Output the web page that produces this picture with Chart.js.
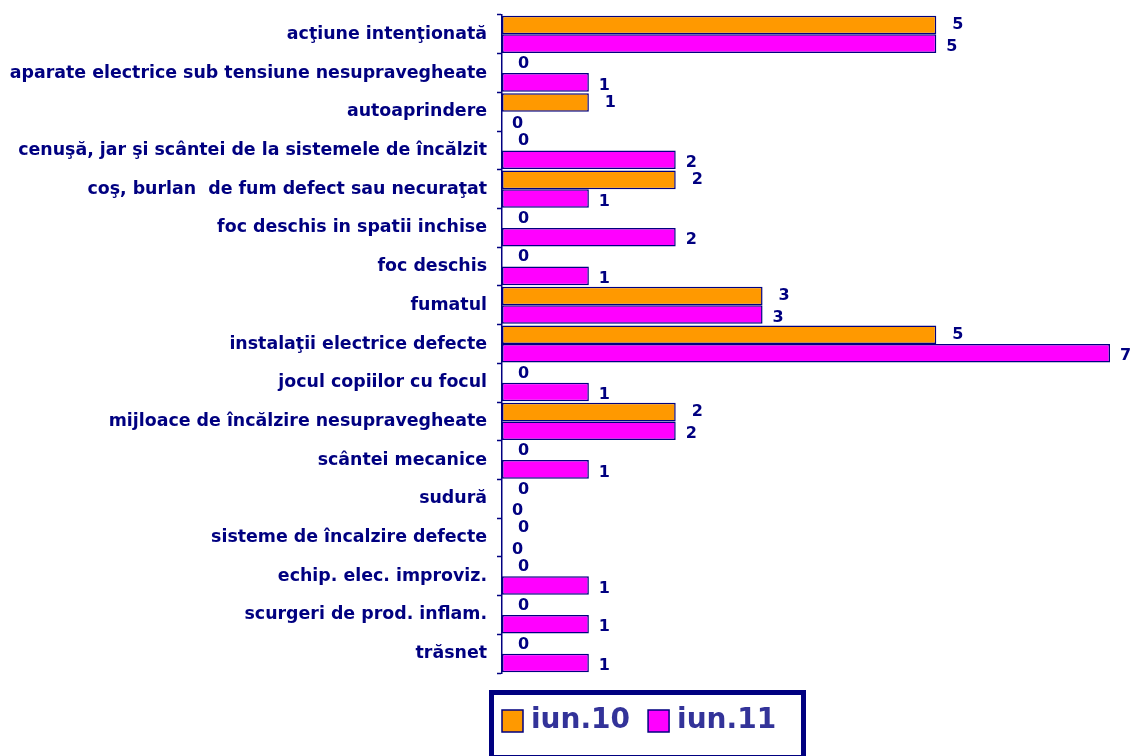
<!DOCTYPE html>
<html><head><meta charset="utf-8">
<script src="https://cdn.jsdelivr.net/npm/chart.js@4/dist/chart.umd.min.js"></script>
<style>html,body{margin:0;padding:0;background:#fff}#wrap{width:1136px;height:756px;position:relative}</style>
</head><body><div id="wrap"><canvas id="c" width="1136" height="756"></canvas></div>
<script>
const categories = [
  "acţiune intenţionată",
  "aparate electrice sub tensiune nesupravegheate",
  "autoaprindere",
  "cenuşă, jar şi scântei de la sistemele de încălzit",
  "coş, burlan  de fum defect sau necuraţat",
  "foc deschis in spatii inchise",
  "foc deschis",
  "fumatul",
  "instalaţii electrice defecte",
  "jocul copiilor cu focul",
  "mijloace de încălzire nesupravegheate",
  "scântei mecanice",
  "sudură",
  "sisteme de încalzire defecte",
  "echip. elec. improviz.",
  "scurgeri de prod. inflam.",
  "trăsnet"
];
const seriesNames = ["iun.10", "iun.11"];
const iun10 = [5,0,1,0,2,0,0,3,5,0,2,0,0,0,0,0,0];
const iun11 = [5,1,0,2,1,2,1,3,7,1,2,1,0,0,1,1,1];
const colors = ["#FF9900", "#FF00FF"];
const navy = "#000080";
const font = "'DejaVu Sans', Verdana, sans-serif";

const valueLabels = {
  id: 'valueLabels',
  afterDatasetsDraw(chart) {
    const ctx = chart.ctx;
    ctx.save();
    ctx.fillStyle = navy;
    ctx.font = "bold 16px " + font;
    ctx.textBaseline = 'middle';
    ctx.textAlign = 'left';
    chart.data.datasets.forEach((ds, di) => {
      const meta = chart.getDatasetMeta(di);
      meta.data.forEach((bar, i) => {
        const dx = di === 0 ? 16 : 10;
        const dy = di === 0 ? 0 : 3;
        ctx.fillText(String(ds.data[i]), bar.x + dx, bar.y + dy);
      });
    });
    ctx.restore();
  }
};

const boxLegend = {
  id: 'boxLegend',
  afterDraw(chart) {
    const ctx = chart.ctx;
    ctx.save();
    const bx = 489, by = 690, bw = 317, bh = 70;
    ctx.fillStyle = '#fff';
    ctx.fillRect(bx, by, bw, bh);
    ctx.lineWidth = 5;
    ctx.strokeStyle = navy;
    ctx.strokeRect(bx + 2.5, by + 2.5, bw - 5, bh - 5);
    ctx.font = "bold 28px " + font;
    ctx.textBaseline = 'middle';
    let x = 502;
    const cy = 721;
    chart.data.datasets.forEach((ds, di) => {
      ctx.fillStyle = ds.backgroundColor;
      ctx.fillRect(x, cy - 11, 21, 22);
      ctx.lineWidth = 1.5;
      ctx.strokeStyle = navy;
      ctx.strokeRect(x, cy - 11, 21, 22);
      ctx.fillStyle = '#333399';
      ctx.fillText(ds.label, x + 29, cy);
      x += 29 + ctx.measureText(ds.label).width + 18;
    });
    ctx.restore();
  }
};

new Chart(document.getElementById('c'), {
  type: 'bar',
  data: {
    labels: categories,
    datasets: [
      { label: seriesNames[0], data: iun10, backgroundColor: colors[0], borderColor: navy, borderWidth: 1.5, borderSkipped: false },
      { label: seriesNames[1], data: iun11, backgroundColor: colors[1], borderColor: navy, borderWidth: 1.5, borderSkipped: false }
    ]
  },
  options: {
    indexAxis: 'y',
    responsive: false,
    animation: false,
    events: [],
    layout: { padding: { top: 15, right: 26, bottom: 83, left: 0 } },
    datasets: { bar: { categoryPercentage: 0.96, barPercentage: 1.0 } },
    plugins: { legend: { display: false }, tooltip: { enabled: false } },
    scales: {
      x: { display: false, min: 0, max: 7 },
      y: {
        afterFit(scale) { scale.width = 502; scale.paddingTop = 0; scale.paddingBottom = 0; },
        border: { display: true, color: navy, width: 1.5 },
        grid: { drawOnChartArea: false, offset: true, tickLength: 5, color: navy, tickWidth: 1.5 },
        ticks: { color: navy, padding: 10, autoSkip: false, font: { family: font, size: 17.4, weight: 'bold' } }
      }
    }
  },
  plugins: [valueLabels, boxLegend]
});
</script></body></html>
